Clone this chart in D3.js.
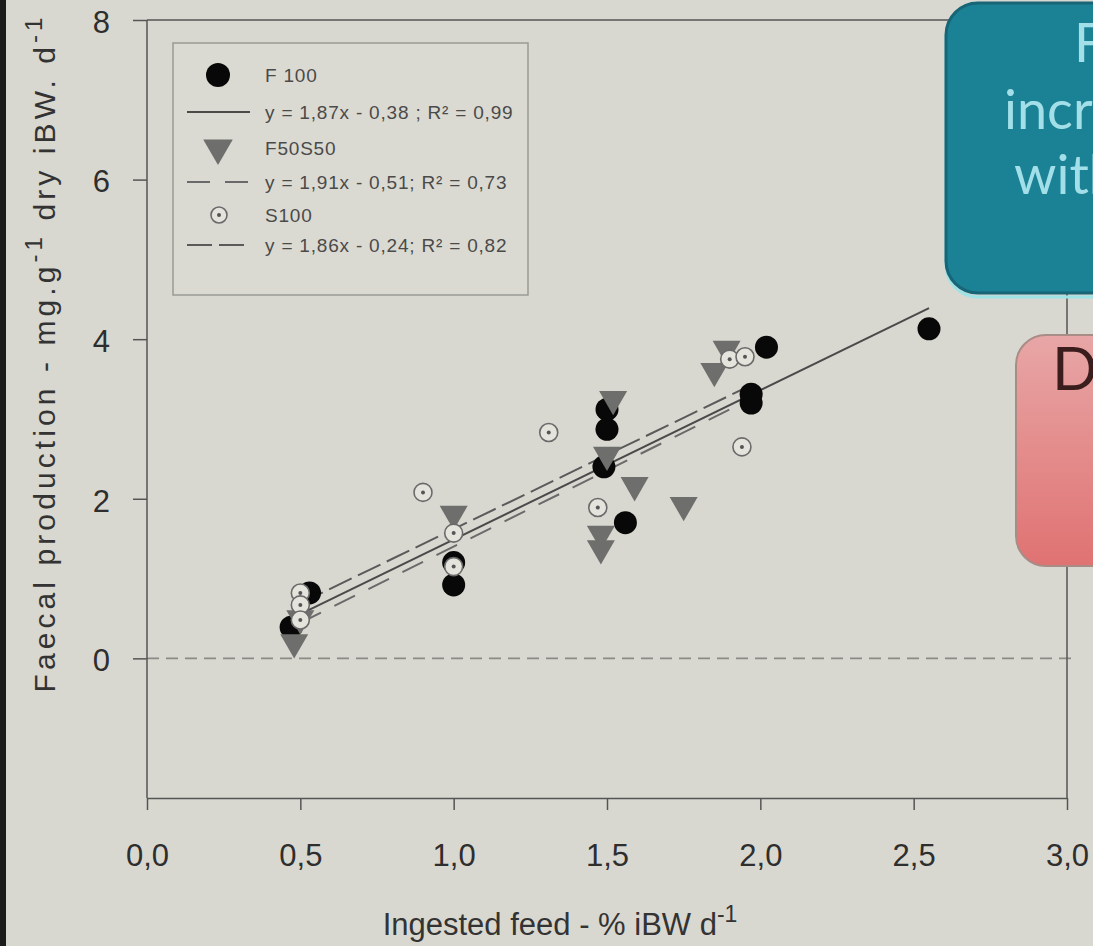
<!DOCTYPE html>
<html>
<head>
<meta charset="utf-8">
<script src="https://cdn.jsdelivr.net/npm/d3@7"></script>
<style>
  html, body { margin: 0; padding: 0; background: #d8d7cf; overflow: hidden; }
  svg { display: block; }
</style>
</head>
<body>
<div id="chart"></div>
<script>
// values
let f100X = [0.47, 0.53, 1.0, 1.0, 1.49, 1.5, 1.5, 1.56, 1.97, 1.97, 2.02, 2.55];
let f100Y = [0.39, 0.82, 1.2, 0.92, 2.4, 2.87, 3.12, 1.70, 3.2, 3.31, 3.9, 4.13];

let f5050X = [0.48, 0.5, 1.0, 1.48, 1.48, 1.5, 1.52, 1.59, 1.75, 1.85, 1.89];
let f5050Y = [0.2, 0.5, 1.81, 1.38, 1.56, 2.55, 3.25, 2.17, 1.92, 3.6, 3.88];

let s100X = [0.5, 0.5, 0.5, 0.9, 1.0, 1.0, 1.31, 1.47, 1.90, 1.95, 1.94];
let s100Y = [0.82, 0.67, 0.48, 2.08, 1.57, 1.15, 2.83, 1.89, 3.75, 3.78, 2.65];

// regression fits: slope, intercept, x extent
let fitNames = ["F 100", "F50S50", "S100"];
let fitSlope = [1.87, 1.91, 1.86];
let fitIntercept = [-0.38, -0.51, -0.24];
let fitFrom = [0.5, 0.5, 0.5];
let fitTo = [2.55, 1.97, 1.97];
let fitLabels = ["y = 1,87x - 0,38  ; R² = 0,99", "y = 1,91x - 0,51; R² = 0,73", "y = 1,86x - 0,24; R² = 0,82"];

let xTicks = [0, 0.5, 1, 1.5, 2, 2.5, 3];
let yTicks = [0, 2, 4, 6, 8];

let W = 1093, H = 946;
let fmt = d => d3.format(".1f")(d).replace(".", ",");
let chartFont = "'Liberation Sans', Arial, sans-serif";

let svg = d3.select("#chart").append("svg").attr("width", W).attr("height", H);
svg.append("rect").attr("width", W).attr("height", H).attr("fill", "#d9d8d0");

let xScale = d3.scaleLinear().domain([0, 3]).range([147, 1067]);
let yScale = d3.scaleLinear().domain([-1.75, 8]).range([798, 20]);

let axisColor = "#555";

// zero reference line
svg.append("line")
    .attr("x1", xScale(0)).attr("x2", xScale(3.03))
    .attr("y1", yScale(0)).attr("y2", yScale(0))
    .attr("stroke", "#8a8a86").attr("stroke-width", 1.6)
    .attr("stroke-dasharray", "12,7");

// frame
svg.append("line").attr("x1", xScale(0)).attr("x2", xScale(3))
    .attr("y1", yScale(8)).attr("y2", yScale(8))
    .attr("stroke", axisColor).attr("stroke-width", 1.5);
svg.append("line").attr("x1", xScale(3)).attr("x2", xScale(3))
    .attr("y1", yScale(8)).attr("y2", yScale(-1.75))
    .attr("stroke", axisColor).attr("stroke-width", 1.5);

let xAxis = d3.axisBottom(xScale).tickValues(xTicks).tickSize(12).tickSizeOuter(0).tickFormat(fmt);
let yAxis = d3.axisLeft(yScale).tickValues(yTicks).tickSize(14).tickSizeOuter(0).tickFormat(d3.format("d"));

let gx = svg.append("g").attr("transform", `translate(0, ${yScale(-1.75)})`).call(xAxis);
let gy = svg.append("g").attr("transform", `translate(${xScale(0)}, 0)`).call(yAxis);

[gx, gy].forEach(g => {
    g.select(".domain").attr("stroke", axisColor).attr("stroke-width", 1.5);
    g.selectAll(".tick line").attr("stroke", axisColor).attr("stroke-width", 1.5);
    g.selectAll(".tick text")
        .attr("fill", "#2e2e2e")
        .style("font-family", chartFont)
        .style("font-size", "31px");
});
// the y axis domain should span down to the bottom axis
gy.select(".domain").attr("d", `M0,${yScale(8)}V${yScale(-1.75)}`);
gx.selectAll(".tick text").attr("y", 68).attr("dy", 0);
gy.selectAll(".tick text").attr("x", -37).attr("dy", "0.4em");

// axis titles
svg.append("text")
    .attr("transform", `translate(${(xScale(0) + xScale(3)) / 2 - 47}, 935)`)
    .attr("text-anchor", "middle")
    .attr("fill", "#333")
    .style("font-family", chartFont)
    .style("font-size", "31px")
    .html('Ingested feed - % iBW d<tspan dy="-13" font-size="23">-1</tspan>');

svg.append("text")
    .attr("transform", `translate(55, 355) rotate(-90)`)
    .attr("text-anchor", "middle")
    .attr("textLength", 675)
    .attr("lengthAdjust", "spacing")
    .attr("fill", "#333")
    .style("font-family", chartFont)
    .style("font-size", "30px")
    .html('Faecal production - mg.g<tspan dy="-13" font-size="24">-1</tspan><tspan dy="13"> dry iBW. d</tspan><tspan dy="-13" font-size="24">-1</tspan>');

// regression lines
let fitDash = [null, "23,15", "25,7"];
let fitColor = ["#4a4a4a", "#6a6a6a", "#5a5a5a"];
fitNames.forEach((n, i) => {
    svg.append("line")
        .attr("x1", xScale(fitFrom[i])).attr("y1", yScale(fitSlope[i] * fitFrom[i] + fitIntercept[i]))
        .attr("x2", xScale(fitTo[i])).attr("y2", yScale(fitSlope[i] * fitTo[i] + fitIntercept[i]))
        .attr("stroke", fitColor[i]).attr("stroke-width", 2)
        .attr("stroke-dasharray", fitDash[i]);
});

// markers
function drawTriangle(g, cx, cy, s) {
    g.append("path")
        .attr("d", d3.symbol().type(d3.symbolTriangle).size(s)())
        .attr("transform", `translate(${cx}, ${cy}) rotate(180)`)
        .attr("fill", "#6e6e6c");
}
function drawS100(g, cx, cy, r) {
    g.append("circle").attr("cx", cx).attr("cy", cy).attr("r", r)
        .attr("fill", "#e4e3dc").attr("stroke", "#6a6a6a").attr("stroke-width", 1.6);
    g.append("circle").attr("cx", cx).attr("cy", cy).attr("r", 2)
        .attr("fill", "#555");
}

let marks = svg.append("g");
f100X.forEach((x, i) => {
    marks.append("circle").attr("cx", xScale(x)).attr("cy", yScale(f100Y[i])).attr("r", 11.5)
        .attr("fill", "#080808");
});
f5050X.forEach((x, i) => drawTriangle(marks, xScale(x), yScale(f5050Y[i]), 340));
s100X.forEach((x, i) => drawS100(marks, xScale(x), yScale(s100Y[i]), 9));

// legend
let legend = svg.append("g");
legend.append("rect").attr("x", 173).attr("y", 43).attr("width", 355).attr("height", 252)
    .attr("fill", "#dbdad2").attr("stroke", "#9a9a96").attr("stroke-width", 1.5);
let legRows = [75, 112, 148, 182, 215, 245];
legend.append("circle").attr("cx", 218).attr("cy", legRows[0]).attr("r", 12).attr("fill", "#080808");
drawTriangle(legend, 218, legRows[2], 380);
drawS100(legend, 219, legRows[4], 8);
[1, 3, 5].forEach((row, i) => {
    legend.append("line").attr("x1", 187).attr("x2", 250)
        .attr("y1", legRows[row]).attr("y2", legRows[row])
        .attr("stroke", fitColor[i]).attr("stroke-width", 2)
        .attr("stroke-dasharray", fitDash[i]);
});
fitNames.forEach((n, i) => {
    legend.append("text").attr("x", 265).attr("y", legRows[i * 2]).attr("dy", "0.35em")
        .attr("fill", "#4a4a4a").style("font-family", chartFont).style("font-size", "19px")
        .style("letter-spacing", "0.8px").text(n);
    legend.append("text").attr("x", 265).attr("y", legRows[i * 2 + 1]).attr("dy", "0.35em")
        .attr("fill", "#4a4a4a").style("font-family", chartFont).style("font-size", "19px")
        .style("letter-spacing", "0.8px").text(fitLabels[i]);
});

// slide call-out boxes on the right (clipped by the window)
let defs = svg.append("defs");
let grad = defs.append("linearGradient").attr("id", "pinkGrad")
    .attr("x1", 0).attr("y1", 0).attr("x2", 0).attr("y2", 1);
grad.append("stop").attr("offset", "0%").attr("stop-color", "#e8a6a6");
grad.append("stop").attr("offset", "100%").attr("stop-color", "#e07272");

svg.append("rect").attr("x", 946).attr("y", 5).attr("width", 260).attr("height", 292)
    .attr("rx", 32).attr("fill", "none").attr("stroke", "#9fe3e6").attr("stroke-width", 3);
svg.append("rect").attr("x", 946).attr("y", 3).attr("width", 260).attr("height", 290)
    .attr("rx", 32).attr("fill", "#1b8295").attr("stroke", "#176577").attr("stroke-width", 3);
let calloutFont = "Lato, 'Open Sans', sans-serif";
let teal = svg.append("g").attr("fill", "#a2dfe8").style("font-family", calloutFont).style("font-size", "54px");
teal.append("text").attr("x", 1074).attr("y", 62).text("Faeces");
teal.append("text").attr("x", 1004).attr("y", 129).text("increases");
teal.append("text").attr("x", 1014).attr("y", 194).text("with intake");

svg.append("rect").attr("x", 1016).attr("y", 335).attr("width", 200).attr("height", 231)
    .attr("rx", 30).attr("fill", "url(#pinkGrad)").attr("stroke", "#a88c86").attr("stroke-width", 2);
svg.append("text").attr("x", 1052).attr("y", 390).attr("fill", "#3b1d1d")
    .style("font-family", calloutFont).style("font-size", "60px").text("D");

// dark edge on the left of the slide
svg.append("rect").attr("x", 0).attr("y", 0).attr("width", 6).attr("height", H).attr("fill", "#1c1c1c");
</script>
</body>
</html>
